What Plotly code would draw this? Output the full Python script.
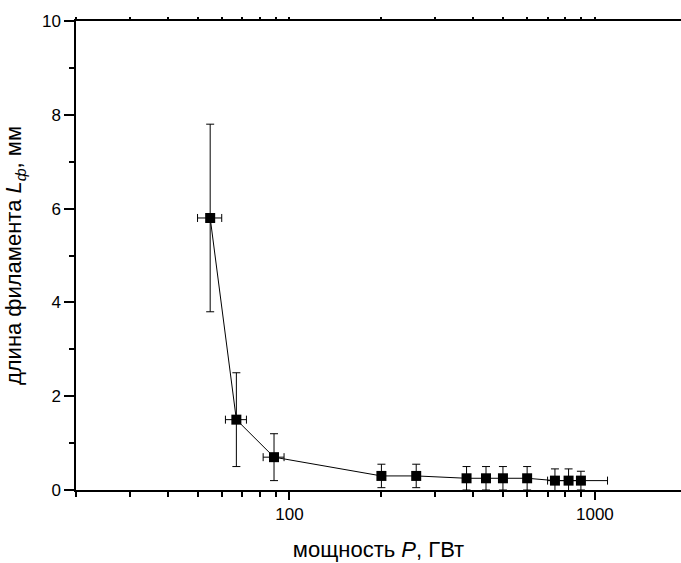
import math
import plotly.graph_objects as go

# Data
power = [55, 67, 89, 200, 260, 380, 440, 500, 600, 740, 820, 900]
power_err = [5, 5.3, 7, 0, 0, 0, 0, 0, 0, 0, 0, 200]
length = [5.8, 1.5, 0.7, 0.3, 0.3, 0.25, 0.25, 0.25, 0.25, 0.2, 0.2, 0.2]
length_err = [2.0, 1.0, 0.5, 0.25, 0.25, 0.25, 0.25, 0.25, 0.25, 0.25, 0.25, 0.2]

x_major = [100, 1000]
x_minor = [20, 30, 40, 50, 60, 70, 80, 90, 200, 300, 400, 500, 600, 700, 800, 900]
y_major = [0, 2, 4, 6, 8, 10]
y_minor = [1, 3, 5, 7, 9]

FONT = "Arial, Liberation Sans, sans-serif"
x_range = [math.log10(20), math.log10(1914)]

fig = go.Figure()
fig.add_trace(go.Scatter(
    x=power, y=length, mode="lines+markers",
    line=dict(color="black", width=1),
    marker=dict(symbol="square", size=10, color="black"),
    error_x=dict(type="data", array=power_err, color="black", thickness=1, width=4),
    error_y=dict(type="data", array=length_err, color="black", thickness=1, width=4),
    showlegend=False,
))
# invisible trace for the top axis
fig.add_trace(go.Scatter(x=[100], y=[5], xaxis="x2", mode="markers",
                         marker=dict(opacity=0), showlegend=False, hoverinfo="skip"))

fig.update_layout(
    width=681, height=563,
    margin=dict(l=76, r=0, t=21, b=73),
    plot_bgcolor="white", paper_bgcolor="white",
    font=dict(family=FONT, color="black"),
    xaxis=dict(
        type="log", range=x_range,
        tickmode="array", tickvals=x_major, ticktext=["100", "1000"],
        ticks="outside", ticklen=8, tickwidth=1.5, tickcolor="black",
        minor=dict(tickmode="array", tickvals=x_minor, ticks="outside",
                   ticklen=5, tickwidth=1.5, tickcolor="black", showgrid=False),
        showline=True, linecolor="black", linewidth=1.5,
        showgrid=False, zeroline=False,
        tickfont=dict(size=17, family=FONT),
        title=dict(text="мощность <i>P</i>, ГВт", font=dict(size=22, family=FONT), standoff=18),
    ),
    xaxis2=dict(
        type="log", range=x_range, overlaying="x", side="top",
        tickmode="array", tickvals=x_major + x_minor, ticks="outside",
        ticklen=2, tickwidth=1.5, tickcolor="black", showticklabels=False,
        showline=True, linecolor="black", linewidth=1.5,
        showgrid=False, zeroline=False,
    ),
    yaxis=dict(
        range=[0, 10],
        tickmode="array", tickvals=y_major,
        ticks="outside", ticklen=10, tickwidth=1.5, tickcolor="black",
        minor=dict(tickmode="array", tickvals=y_minor, ticks="outside",
                   ticklen=5, tickwidth=1.5, tickcolor="black", showgrid=False),
        showline=True, linecolor="black", linewidth=1.5,
        showgrid=False, zeroline=False,
        tickfont=dict(size=17, family=FONT),
        title=dict(text="длина филамента <i>L</i><sub><i>ф</i></sub>, мм",
                   font=dict(size=22, family=FONT), standoff=14),
    ),
)

fig.write_html("out.html")
